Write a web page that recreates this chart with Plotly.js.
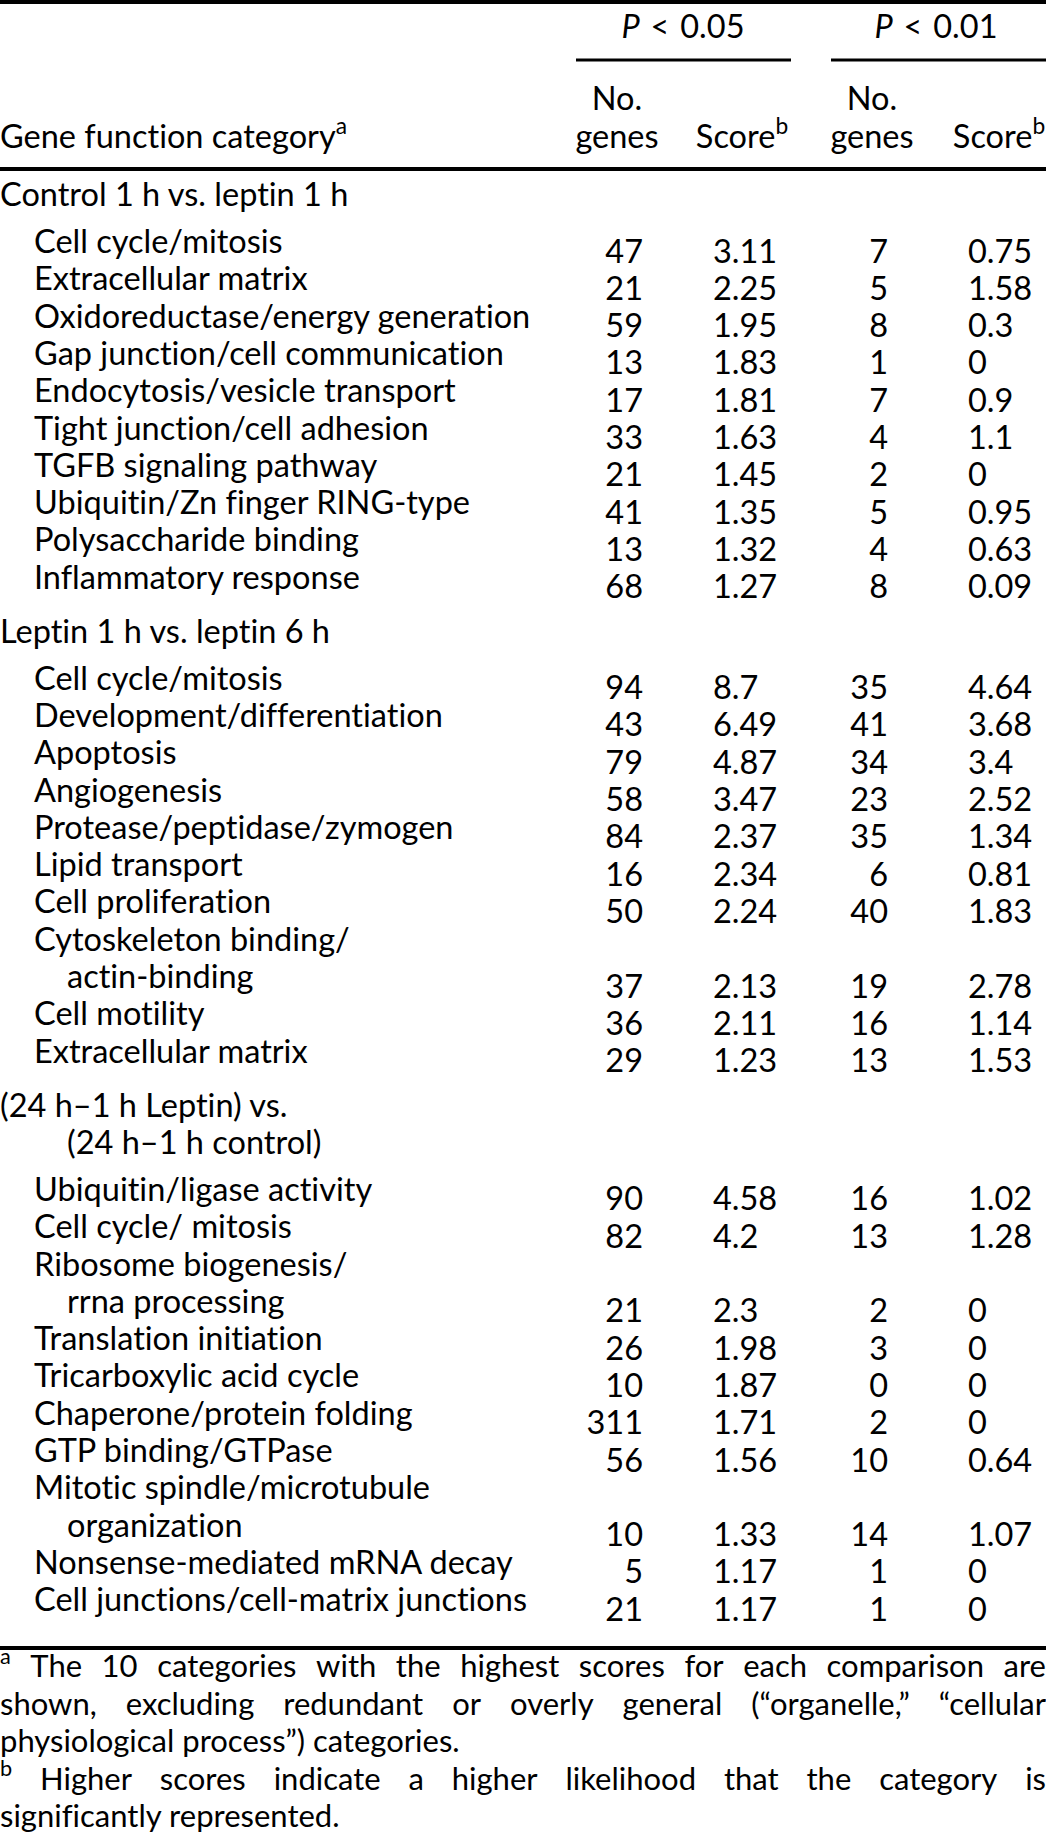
<!DOCTYPE html>
<html>
<head>
<meta charset="utf-8">
<script src="https://cdn.plot.ly/plotly-3.0.1.min.js"></script>
<style>
html,body{margin:0;padding:0;background:#fff;}
svg text{font-variant-ligatures:none;font-feature-settings:"liga" 0,"clig" 0;}
</style>
</head>
<body>
<div id="chart" style="width:1046px;height:1835px;"></div>
<script>
// ---------------- DATA ----------------
const pHeaders = ["<i>P</i>\u2004&lt;\u20040.05", "<i>P</i>\u2004&lt;\u20040.01"];
const colHeaderTop = ["No.", "", "No.", ""];
const colHeaderBottom = ["genes", "Score<sup>b</sup>", "genes", "Score<sup>b</sup>"];
const stubHeader = "Gene function category<sup>a</sup>";

const section1Title = ["Control 1 h vs. leptin 1 h"];
const section1Categories = [
  "Cell cycle/mitosis", "Extracellular matrix", "Oxidoreductase/energy generation",
  "Gap junction/cell communication", "Endocytosis/vesicle transport", "Tight junction/cell adhesion",
  "TGFB signaling pathway", "Ubiquitin/Zn finger RING-type", "Polysaccharide binding",
  "Inflammatory response"
];
const section1Genes05 = [47, 21, 59, 13, 17, 33, 21, 41, 13, 68];
const section1Score05 = ["3.11", "2.25", "1.95", "1.83", "1.81", "1.63", "1.45", "1.35", "1.32", "1.27"];
const section1Genes01 = [7, 5, 8, 1, 7, 4, 2, 5, 4, 8];
const section1Score01 = ["0.75", "1.58", "0.3", "0", "0.9", "1.1", "0", "0.95", "0.63", "0.09"];

const section2Title = ["Leptin 1 h vs. leptin 6 h"];
const section2Categories = [
  "Cell cycle/mitosis", "Development/differentiation", "Apoptosis", "Angiogenesis",
  "Protease/peptidase/zymogen", "Lipid transport", "Cell proliferation",
  "Cytoskeleton binding/\nactin-binding", "Cell motility", "Extracellular matrix"
];
const section2Genes05 = [94, 43, 79, 58, 84, 16, 50, 37, 36, 29];
const section2Score05 = ["8.7", "6.49", "4.87", "3.47", "2.37", "2.34", "2.24", "2.13", "2.11", "1.23"];
const section2Genes01 = [35, 41, 34, 23, 35, 6, 40, 19, 16, 13];
const section2Score01 = ["4.64", "3.68", "3.4", "2.52", "1.34", "0.81", "1.83", "2.78", "1.14", "1.53"];

const section3Title = ["(24 h\u20131 h Leptin) vs.", "(24 h\u20131 h control)"];
const section3Categories = [
  "Ubiquitin/ligase activity", "Cell cycle/ mitosis", "Ribosome biogenesis/\nrrna processing",
  "Translation initiation", "Tricarboxylic acid cycle", "Chaperone/protein folding",
  "GTP binding/GTPase", "Mitotic spindle/microtubule\norganization",
  "Nonsense-mediated mRNA decay", "Cell junctions/cell-matrix junctions"
];
const section3Genes05 = [90, 82, 21, 26, 10, 311, 56, 10, 5, 21];
const section3Score05 = ["4.58", "4.2", "2.3", "1.98", "1.87", "1.71", "1.56", "1.33", "1.17", "1.17"];
const section3Genes01 = [16, 13, 2, 3, 0, 2, 10, 14, 1, 1];
const section3Score01 = ["1.02", "1.28", "0", "0", "0", "0", "0.64", "1.07", "0", "0"];

const footnoteMarks = ["a", "b"];
const footnoteALines = [
  "The 10 categories with the highest scores for each comparison are",
  "shown, excluding redundant or overly general (\u201corganelle,\u201d \u201ccellular",
  "physiological process\u201d) categories."
];
const footnoteBLines = [
  "Higher scores indicate a higher likelihood that the category is",
  "significantly represented."
];

// ---------------- LAYOUT CONSTANTS ----------------
const W = 1046, H = 1835;
const FONT = "Lato";
const FS = 32.5;          // body text
const FS_NOTE = 31;       // footnotes
const INDENT1 = 34, INDENT2 = 67;
const COL_X = [643, 713, 888, 968];       // anchors: right, left, right, left
const COL_POS = ["middle left", "middle right", "middle left", "middle right"];
const COL_CENTER = [617, 742, 872, 999];
const P_CENTER = [683, 936];
const SPAN = [[576, 791], [831, 1046]];
const PITCH = 37.3;
const NUM_OFFSET = 9.5;

const sections = [
  {title: section1Title, cats: section1Categories, vals: [section1Genes05, section1Score05, section1Genes01, section1Score01]},
  {title: section2Title, cats: section2Categories, vals: [section2Genes05, section2Score05, section2Genes01, section2Score01]},
  {title: section3Title, cats: section3Categories, vals: [section3Genes05, section3Score05, section3Genes01, section3Score01]}
];

// ---------------- BUILD ----------------
const labelPts = {x: [], y: [], t: []};
const colPts = [0,1,2,3].map(() => ({x: [], y: [], t: []}));

let y = 206; // baseline of first section heading
sections.forEach((sec, si) => {
  if (si > 0) y += 54;
  sec.title.forEach((line, li) => {
    if (li > 0) y += PITCH;
    labelPts.x.push(li ? INDENT2 : 0); labelPts.y.push(y); labelPts.t.push(line);
  });
  y += 47;
  sec.cats.forEach((cat, ci) => {
    if (ci > 0) y += PITCH;
    cat.split("\n").forEach((ln, li) => {
      if (li > 0) y += PITCH;
      labelPts.x.push(li ? INDENT2 : INDENT1); labelPts.y.push(y); labelPts.t.push(ln);
    });
    sec.vals.forEach((arr, k) => {
      colPts[k].x.push(COL_X[k]); colPts[k].y.push(y + NUM_OFFSET); colPts[k].t.push(String(arr[ci]));
    });
  });
});

// header texts
const headPts = {x: [], y: [], t: []};
pHeaders.forEach((t, i) => { headPts.x.push(P_CENTER[i]); headPts.y.push(38); headPts.t.push(t); });
colHeaderTop.forEach((t, i) => { if (t) { headPts.x.push(COL_CENTER[i]); headPts.y.push(110); headPts.t.push(t); } });
colHeaderBottom.forEach((t, i) => { headPts.x.push(COL_CENTER[i]); headPts.y.push(148); headPts.t.push(t); });
labelPts.x.push(0); labelPts.y.push(148); labelPts.t.push(stubHeader);

// footnotes (justified lines, word by word)
const ctx = document.createElement("canvas").getContext("2d");
function tw(s, size) { ctx.font = size + "px " + FONT; return ctx.measureText(s).width; }
const footLeft = {x: [], y: [], t: []};
const footRight = {x: [], y: [], t: []};
let fy = 1677;
[[footnoteMarks[0], footnoteALines], [footnoteMarks[1], footnoteBLines]].forEach(([mark, lines]) => {
  lines.forEach((line, li) => {
    const toks = line.split(" ").map(w => ({t: w, w: tw(w, FS_NOTE)}));
    if (li === 0) toks.unshift({t: "<sup>" + mark + "</sup>", w: tw(mark, FS_NOTE * 0.7)});
    const total = toks.reduce((a, b) => a + b.w, 0);
    const last = li === lines.length - 1;
    const gap = last ? tw(" ", FS_NOTE) : (W - total) / (toks.length - 1);
    let x = 0;
    toks.forEach((tok, ti) => {
      if (!last && ti === toks.length - 1) {
        footRight.x.push(W); footRight.y.push(fy); footRight.t.push(tok.t);
      } else {
        footLeft.x.push(x); footLeft.y.push(fy); footLeft.t.push(tok.t);
      }
      x += tok.w + gap;
    });
    fy += 37.5;
  });
});

function textTrace(p, pos, size) {
  return {
    type: "scatter", mode: "text", x: p.x, y: p.y.map(v => v - 0.25 * size), text: p.t,
    textposition: pos, textfont: {family: FONT, size: size, color: "#000"},
    hoverinfo: "skip", showlegend: false, cliponaxis: false
  };
}

const traces = [
  textTrace(labelPts, "middle right", FS),
  textTrace(headPts, "middle center", FS),
  textTrace(footLeft, "middle right", FS_NOTE),
  textTrace(footRight, "middle left", FS_NOTE)
].concat(colPts.map((p, k) => textTrace(p, COL_POS[k], FS)));

function hline(x0, x1, yy, w) {
  return {type: "line", xref: "x", yref: "y", x0: x0, x1: x1, y0: yy, y1: yy, line: {color: "#000", width: w}};
}
const shapes = [
  hline(0, W, 2, 4),
  hline(SPAN[0][0], SPAN[0][1], 60, 3),
  hline(SPAN[1][0], SPAN[1][1], 60, 3),
  hline(0, W, 169, 4),
  hline(0, W, 1648, 4)
];

const layout = {
  width: W, height: H,
  margin: {l: 0, r: 0, t: 0, b: 0, pad: 0},
  paper_bgcolor: "#fff", plot_bgcolor: "#fff",
  xaxis: {range: [0, W], visible: false, fixedrange: true},
  yaxis: {range: [H, 0], visible: false, fixedrange: true},
  shapes: shapes,
  showlegend: false,
  font: {family: FONT, size: FS, color: "#000"}
};

Plotly.newPlot("chart", traces, layout, {staticPlot: true, displayModeBar: false});
</script>
</body>
</html>
